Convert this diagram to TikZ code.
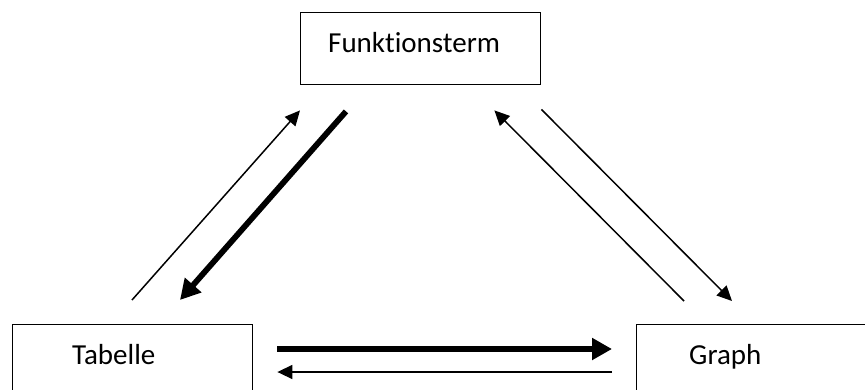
\documentclass[tikz,border=0pt]{standalone}
\usepackage{fontspec}
\setmainfont[Ligatures=NoCommon]{Carlito}
\usetikzlibrary{arrows.meta,calc}
\begin{document}
\begin{tikzpicture}[x=1pt,y=-1pt,
  box/.style={draw=black,line width=1.4pt,rectangle,inner sep=0pt,anchor=north west},
  lbl/.style={anchor=base west,inner sep=0pt,font=\fontsize{29}{34}\selectfont},
  thin/.style={line width=1.5pt,-{Triangle[length=15pt,width=14pt]}},
  thick/.style={line width=5.8pt,-{Triangle[length=20pt,width=21pt]}}]
\useasboundingbox (0,0) rectangle (865,389);
\clip (0,0) rectangle (865,389);
\fill[white] (0,0) rectangle (865,389);
\node[box,minimum width=240pt,minimum height=72pt] (F) at (300,12) {};
\node[box,minimum width=240pt,minimum height=90pt] (T) at (12,324) {};
\node[box,minimum width=260pt,minimum height=90pt] (G) at (636,324) {};
\node[lbl] (Ft) at (328,52) {Funktionsterm};
\node[lbl] (Tt) at (72,364) {Tabelle};
\node[lbl] (Gt) at (689,364) {Graph};
% connector endpoints
\coordinate (a1) at ($(T.north west)+(120,-24)$);
\coordinate (a2) at ($(F.south west)+(0,25)$);
\coordinate (b1) at ($(F.south west)+(46,26)$);
\coordinate (b2) at ($(T.north west)+(168,-24)$);
\coordinate (c1) at ($(G.north west)+(48,-23)$);
\coordinate (c2) at ($(F.south east)+(-47,25)$);
\coordinate (d1) at ($(F.south east)+(0,24)$);
\coordinate (d2) at ($(G.north west)+(96,-23)$);
\coordinate (e1) at ($(T.north east)+(24,25)$);
\coordinate (e2) at ($(G.north west)+(-24,25)$);
\coordinate (f1) at ($(G.north west)+(-24,48)$);
\coordinate (f2) at ($(T.north east)+(24,48)$);
\draw[thin] (a1) -- (a2);
\draw[thick] (b1) -- (b2);
\draw[thin] (c1) -- (c2);
\draw[thin] (d1) -- (d2);
\draw[thick] (e1) -- (e2);
\draw[thin] (f1) -- (f2);
\end{tikzpicture}
\end{document}
